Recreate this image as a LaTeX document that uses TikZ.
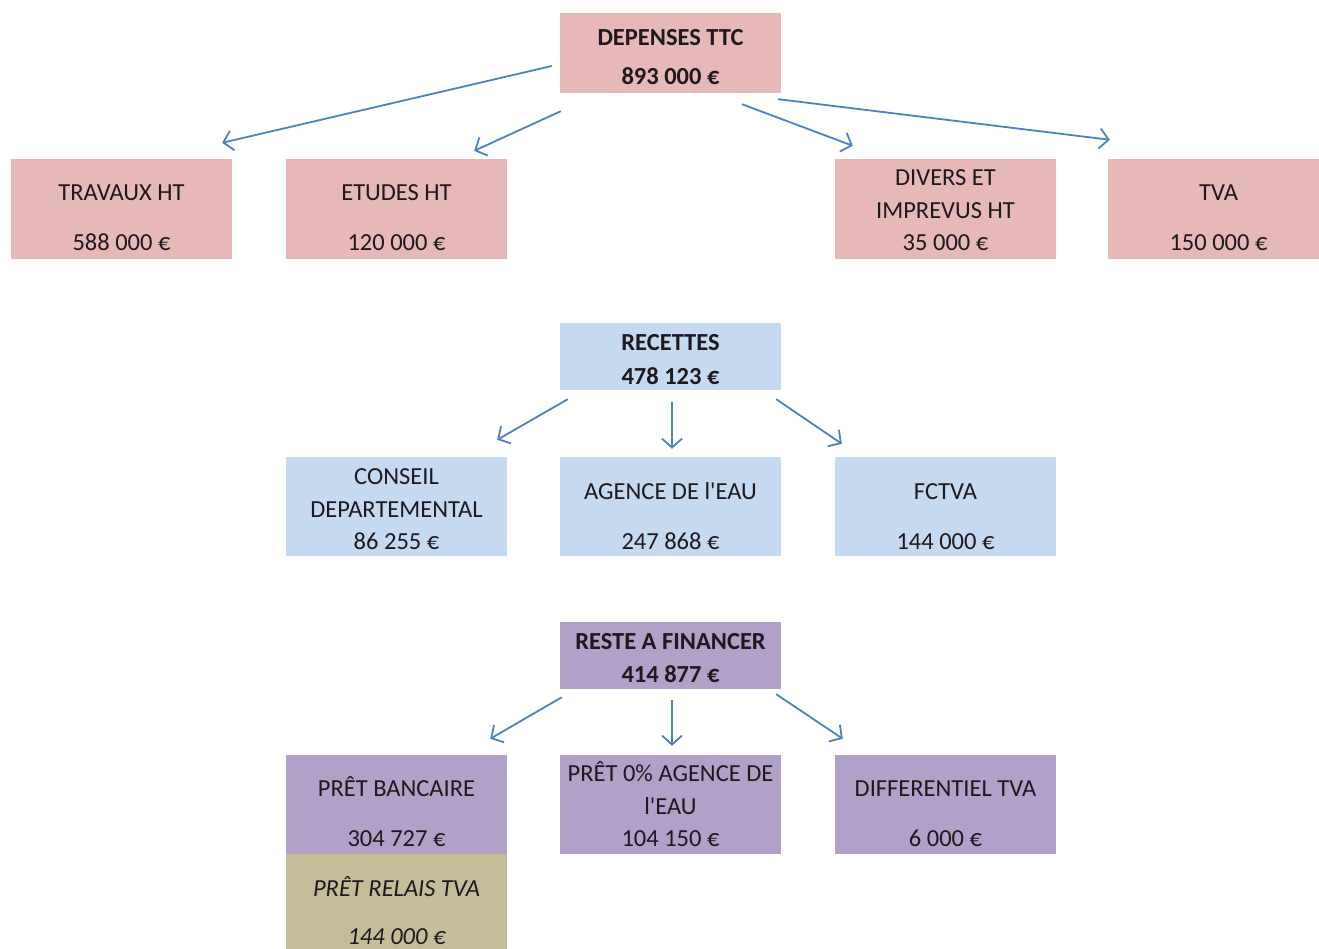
\documentclass[tikz,border=0pt]{standalone}
\usepackage{fontspec}
\setmainfont{Carlito}
\usetikzlibrary{arrows.meta}
\definecolor{pinkbox}{RGB}{230,184,183}
\definecolor{bluebox}{RGB}{197,217,241}
\definecolor{purplebox}{RGB}{177,160,199}
\definecolor{olivebox}{RGB}{196,189,151}
\definecolor{arrowcol}{RGB}{79,129,189}
\definecolor{txt}{RGB}{30,25,30}
\tikzset{
  box/.style={rectangle, inner sep=0pt, draw=none, minimum width=221pt, minimum height=100pt},
  lbl/.style={inner sep=0pt, text height=16pt, text depth=0pt, anchor=center, text=txt,
              font=\fontsize{24.5}{28}\selectfont},
  blbl/.style={lbl, font=\fontsize{24.5}{28}\selectfont\bfseries},
  ilbl/.style={lbl, font=\fontsize{24.5}{28}\selectfont\itshape},
  arr/.style={draw=arrowcol, line width=1.8pt, -{Straight Barb[length=9pt,width=20pt,line width=1.8pt]}}
}
\begin{document}
\begin{tikzpicture}[x=1pt,y=-1pt]
\useasboundingbox (0,0) rectangle (1319,949);
% depenses
\node[box, fill=pinkbox, minimum height=80pt] (dep) at (670.5,53) {};
\node[blbl] (dep1) at (670.5,38) {DEPENSES TTC};
\node[blbl] (dep2) at (670.5,77) {893 000 €};
\node[box, fill=pinkbox] (trav) at (121.5,209) {};
\node[lbl] (trav1) at (121.5,193) {TRAVAUX HT};
\node[lbl] (trav2) at (121.5,243) {588 000 €};
\node[box, fill=pinkbox] (etud) at (396.5,209) {};
\node[lbl] (etud1) at (396.5,193) {ETUDES HT};
\node[lbl] (etud2) at (396.5,243) {120 000 €};
\node[box, fill=pinkbox] (div) at (945.5,209) {};
\node[lbl] (div1) at (945.5,178) {DIVERS ET};
\node[lbl] (div2) at (945.5,211) {IMPREVUS HT};
\node[lbl] (div3) at (945.5,243) {35 000 €};
\node[box, fill=pinkbox, minimum width=211pt] (tva) at (1213.5,209) {};
\node[lbl] (tva1) at (1218.5,193) {TVA};
\node[lbl] (tva2) at (1218.5,243) {150 000 €};
% recettes
\node[box, fill=bluebox, minimum height=67pt] (rec) at (670.5,356.5) {};
\node[blbl] (rec1) at (670.5,343) {RECETTES};
\node[blbl] (rec2) at (670.5,376) {478 123 €};
\node[box, fill=bluebox, minimum height=99pt] (cons) at (396.5,506.5) {};
\node[lbl] (cons1) at (396.5,476) {CONSEIL};
\node[lbl] (cons2) at (396.5,509) {DEPARTEMENTAL};
\node[lbl] (cons3) at (396.5,541) {86 255 €};
\node[box, fill=bluebox, minimum height=99pt] (age) at (670.5,506.5) {};
\node[lbl] (age1) at (670.5,491) {AGENCE DE l\textquotesingle EAU};
\node[lbl] (age2) at (670.5,541) {247 868 €};
\node[box, fill=bluebox, minimum height=99pt] (fct) at (945.5,506.5) {};
\node[lbl] (fct1) at (945.5,491) {FCTVA};
\node[lbl] (fct2) at (945.5,541) {144 000 €};
% reste
\node[box, fill=purplebox, minimum height=67pt] (rest) at (670.5,655.5) {};
\node[blbl] (rest1) at (670.5,641) {RESTE A FINANCER};
\node[blbl] (rest2) at (670.5,674) {414 877 €};
\node[box, fill=purplebox, minimum height=99pt] (pret) at (396.5,804.5) {};
\node[lbl] (pret1) at (396.5,788) {PRÊT BANCAIRE};
\node[lbl] (pret2) at (396.5,838) {304 727 €};
\node[box, fill=purplebox, minimum height=99pt] (pzero) at (670.5,804.5) {};
\node[lbl] (pzero1) at (670.5,773) {PRÊT 0\% AGENCE DE};
\node[lbl] (pzero2) at (670.5,806) {l\textquotesingle EAU};
\node[lbl] (pzero3) at (670.5,838) {104 150 €};
\node[box, fill=purplebox, minimum height=99pt] (diff) at (945.5,804.5) {};
\node[lbl] (diff1) at (945.5,788) {DIFFERENTIEL TVA};
\node[lbl] (diff2) at (945.5,838) {6 000 €};
\node[box, fill=olivebox, minimum height=95pt] (relais) at (396.5,901.5) {};
\node[ilbl] (relais1) at (396.5,888) {PRÊT RELAIS TVA};
\node[ilbl] (relais2) at (396.5,936) {144 000 €};
% arrows
\draw[arr] ([xshift=-8pt,yshift=-13pt]dep.west) -- ([xshift=-10pt,yshift=16pt]trav.north east);
\draw[arr] ([xshift=1pt,yshift=-18pt]dep.south west) -- ([xshift=-33pt,yshift=8pt]etud.north east);
\draw[arr] ([xshift=71.5pt,yshift=-11pt]dep.south) -- ([xshift=18pt,yshift=13pt]div.north west);
\draw[arr] ([xshift=-3pt,yshift=-6pt]dep.south east) -- ([xshift=2pt,yshift=19pt]tva.north west);
\draw[arr] ([xshift=8pt,yshift=-9pt]rec.south west) -- ([xshift=-10pt,yshift=17pt]cons.north east);
\draw[arr] ([xshift=1.5pt,yshift=-12pt]rec.south) -- ([xshift=1.5pt,yshift=8pt]age.north);
\draw[arr] ([xshift=-5pt,yshift=-9pt]rec.south east) -- ([xshift=7pt,yshift=13pt]fct.north west);
\draw[arr] ([xshift=2pt,yshift=-8pt]rest.south west) -- ([xshift=-17pt,yshift=16pt]pret.north east);
\draw[arr] ([xshift=1.5pt,yshift=-11pt]rest.south) -- ([xshift=1.5pt,yshift=9pt]pzero.north);
\draw[arr] ([xshift=-5pt,yshift=-5pt]rest.south east) -- ([xshift=8pt,yshift=16pt]diff.north west);
\end{tikzpicture}
\end{document}
